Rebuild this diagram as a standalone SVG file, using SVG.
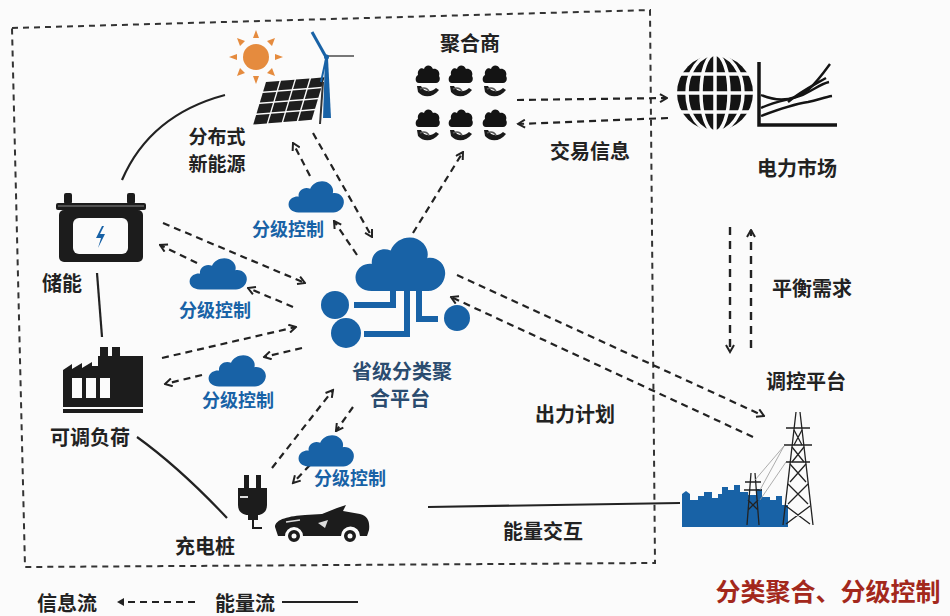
<svg xmlns="http://www.w3.org/2000/svg" xmlns:xlink="http://www.w3.org/1999/xlink" width="950" height="616" viewBox="0 0 950 616">
  <style>
    text { font-family: "Noto Sans CJK SC", "Noto Sans", sans-serif; font-weight: 700; text-anchor: middle; dominant-baseline: central; }
    .lbl { font-size: 20px; fill: #222; }
    .lbl2 { font-size: 19px; fill: #222; }
    .ctl { font-size: 18px; fill: #1862a6; }
    .plat { font-size: 20px; fill: #2b4c6f; }
    .red { font-size: 25px; fill: #a3281c; }
    .info { fill: none; stroke: #222; stroke-width: 2.2; stroke-dasharray: 7 5; }
    .info-v { fill: none; stroke: #222; stroke-width: 2.4; stroke-dasharray: 8 6; }
    .energy { fill: none; stroke: #222; stroke-width: 2.2; }
    .frame { fill: none; stroke: #333; stroke-width: 2; stroke-dasharray: 6 5; }
    .blue { fill: #1862a6; }
    .ink { fill: #1c1c1c; }
  </style>
  <defs>
    <marker id="arr" viewBox="0 0 10 10" refX="8.5" refY="5" markerWidth="10" markerHeight="10" markerUnits="userSpaceOnUse" orient="auto">
      <path d="M1.5,1 L8.5,5 L1.5,9" fill="none" stroke="#222" stroke-width="2"/>
    </marker>
    <symbol id="cloud" viewBox="0 0 100 62" preserveAspectRatio="none">
      <path d="M20,61 C8,61 1,53 3,44 C5,36 13,32 20,33 C19,22 29,15 40,19 C46,5 65,1 75,12 C80,18 80,23 79,27 C90,25 99,34 98,44 C97,54 89,61 80,61 Z"/>
    </symbol>
    <symbol id="agg" viewBox="0 0 25 34">
      <path d="M4,18 C0,18 -0.5,12 3,10 C2,5 6,2 9,4 C10,-0.5 16,-1 18,4 C22,3 25.5,7 24,11 C26,14 24,18 21,18 Z" fill="#141414"/>
      <path d="M2,21 L6,21 C9,27 15,28 21,23 L24,25 C18,33 8,33 3,27 Z" fill="#1a1a1a"/>
      <path d="M5,24 C9,22 12,23 14,26" fill="none" stroke="#555" stroke-width="1.5"/>
    </symbol>
  </defs>

  <rect width="950" height="616" fill="#fbfbfb"/>

  <!-- region boundary -->
  <polygon class="frame" points="12,28 650,10 655,563 25,567"/>

  <!-- connectors -->
  <g id="connectors">
    <!-- energy flows -->
    <path class="energy" d="M122,180 Q150,115 225,95" stroke="#555"/>
    <path class="energy" d="M97,273 L102,337"/>
    <path class="energy" d="M137,437 Q180,468 227,518"/>
    <path class="energy" d="M428,507 L680,503" stroke-width="2.6"/>

    <!-- platform <-> distributed generation -->
    <path class="info" d="M313,133 L372,237" marker-end="url(#arr)"/>
    <path class="info" d="M357,255 L334,221" marker-end="url(#arr)"/>
    <path class="info" d="M310,176 L293,143" marker-end="url(#arr)"/>
    <!-- platform -> aggregator -->
    <path class="info" d="M413,233 L463,152" marker-end="url(#arr)"/>
    <!-- aggregator <-> market -->
    <path class="info" d="M517,100 L667,98" marker-end="url(#arr)"/>
    <path class="info" d="M668,118 L518,124" marker-end="url(#arr)"/>
    <!-- storage <-> platform -->
    <path class="info" d="M163,223 L305,283" marker-end="url(#arr)"/>
    <path class="info" d="M293,307 L248,288" marker-end="url(#arr)"/>
    <path class="info" d="M197,263 L160,245" marker-end="url(#arr)"/>
    <!-- load <-> platform -->
    <path class="info" d="M162,358 L296,327" marker-end="url(#arr)"/>
    <path class="info" d="M302,348 L264,357" marker-end="url(#arr)"/>
    <path class="info" d="M202,375 L165,384" marker-end="url(#arr)"/>
    <!-- charging <-> platform -->
    <path class="info" d="M272,468 L333,390" marker-end="url(#arr)"/>
    <path class="info" d="M353,407 L336,431" marker-end="url(#arr)"/>
    <path class="info" d="M310,465 L293,483" marker-end="url(#arr)"/>
    <!-- platform <-> dispatch -->
    <path class="info" d="M457,275 L764,416" marker-end="url(#arr)"/>
    <path class="info" d="M753,437 L451,297" marker-end="url(#arr)"/>
    <!-- market <-> dispatch -->
    <path class="info-v" d="M730,227 L730,352" marker-end="url(#arr)"/>
    <path class="info-v" d="M751,348 L751,230" marker-end="url(#arr)"/>
  </g>

  <!-- distributed generation -->
  <g id="renewables">
    <g fill="#e58b3e">
      <circle cx="256" cy="57" r="13"/>
      <path d="M256,30 L253,38 L259,38 Z M256,84 L253,76 L259,76 Z M229,57 L237,54 L237,60 Z M283,57 L275,54 L275,60 Z M237,38 L240,46 L245,41 Z M275,38 L267,41 L272,46 Z M237,76 L245,73 L240,68 Z M275,76 L272,68 L267,73 Z"/>
    </g>
    <g transform="matrix(1,-0.08,-0.3,1,266,82)" fill="#1e1e1e">
      <rect x="0" y="0" width="13.5" height="9.5"/><rect x="15" y="0" width="13.5" height="9.5"/><rect x="30" y="0" width="13.5" height="9.5"/><rect x="45" y="0" width="13.5" height="9.5"/>
      <rect x="0" y="11" width="13.5" height="9.5"/><rect x="15" y="11" width="13.5" height="9.5"/><rect x="30" y="11" width="13.5" height="9.5"/><rect x="45" y="11" width="13.5" height="9.5"/>
      <rect x="0" y="22" width="13.5" height="9.5"/><rect x="15" y="22" width="13.5" height="9.5"/><rect x="30" y="22" width="13.5" height="9.5"/><rect x="45" y="22" width="13.5" height="9.5"/>
      <rect x="0" y="33" width="13.5" height="9.5"/><rect x="15" y="33" width="13.5" height="9.5"/><rect x="30" y="33" width="13.5" height="9.5"/><rect x="45" y="33" width="13.5" height="9.5"/>
    </g>
    <path d="M322,82 L324,82 L321,124 L319,124 Z" fill="#333"/>
    <path d="M325,58 L328,58 L331,118 L323,118 Z" class="blue"/>
    <path d="M326,57 L312,32" stroke="#1862a6" stroke-width="3" fill="none"/>
    <path d="M327,56 L354,56" stroke="#777" stroke-width="2" fill="none"/>
    <path d="M326,59 L321,82" stroke="#1862a6" stroke-width="2" fill="none"/>
    <circle cx="326.5" cy="57" r="2.5" class="blue"/>
    <text class="lbl2" x="217" y="135">分布式</text>
    <text class="lbl2" x="217" y="162">新能源</text>
  </g>

  <!-- aggregator -->
  <g id="aggregator">
    <use href="#agg" x="415" y="65" width="25" height="34"/>
    <use href="#agg" x="448" y="65" width="25" height="34"/>
    <use href="#agg" x="482" y="65" width="25" height="34"/>
    <use href="#agg" x="415" y="109" width="25" height="34"/>
    <use href="#agg" x="448" y="109" width="25" height="34"/>
    <use href="#agg" x="482" y="109" width="25" height="34"/>
    <text class="lbl" x="470" y="42">聚合商</text>
  </g>

  <!-- electricity market -->
  <g id="market">
    <circle cx="715" cy="93" r="38" fill="#141414"/>
    <g fill="none" stroke="#fbfbfb" stroke-width="3.5">
      <line x1="715" y1="54" x2="715" y2="132"/>
      <ellipse cx="715" cy="93" rx="14" ry="39"/>
      <ellipse cx="715" cy="93" rx="28" ry="39"/>
      <line x1="676" y1="93" x2="754" y2="93"/>
      <line x1="680" y1="74" x2="750" y2="74"/>
      <line x1="680" y1="112" x2="750" y2="112"/>
    </g>
    <path d="M759,62 L759,125 L837,125" fill="none" stroke="#141414" stroke-width="3.5"/>
    <g fill="none" stroke="#141414" stroke-width="2.4">
      <path d="M761,95 C780,103 795,100 808,90 C815,84 822,75 830,64"/>
      <path d="M761,108 C778,100 790,100 800,96 C812,91 820,84 829,82"/>
      <path d="M761,116 C782,108 795,104 808,102 C818,100 825,97 832,96"/>
      <path d="M788,102 C800,92 812,86 826,78"/>
    </g>
    <text class="lbl" x="797" y="167">电力市场</text>
    <text class="lbl" x="590" y="150">交易信息</text>
  </g>

  <!-- storage -->
  <g id="storage">
    <rect x="64" y="193" width="8" height="11" rx="2" class="ink"/>
    <rect x="127" y="193" width="8" height="11" rx="2" class="ink"/>
    <rect x="56" y="203" width="90" height="7" rx="2" class="ink"/>
    <line x1="58" y1="206" x2="144" y2="206" stroke="#888" stroke-width="1"/>
    <rect x="59" y="210" width="84" height="52" rx="5" class="ink"/>
    <rect x="73" y="218" width="55" height="36" rx="6" fill="#fbfbfb"/>
    <path d="M102,226 L96,238 L101,238 L98,248 L105,234 L100,234 L104,226 Z" class="blue"/>
    <text class="lbl" x="62" y="282">储能</text>
  </g>

  <!-- adjustable load -->
  <g id="load">
    <rect x="100" y="347" width="8" height="10" class="ink"/>
    <rect x="112" y="347" width="8" height="10" class="ink"/>
    <path d="M63,407 L63,370 L72,364 L72,369 L82,363 L82,368 L92,362 L92,366 L98,366 L98,356 L143,356 L143,407 Z" class="ink"/>
    <rect x="72" y="378" width="10" height="20" fill="#fbfbfb"/>
    <rect x="86" y="378" width="10" height="20" fill="#fbfbfb"/>
    <rect x="100" y="378" width="10" height="20" fill="#fbfbfb"/>
    <rect x="63" y="409" width="80" height="4" class="ink"/>
    <text class="lbl" x="90" y="436">可调负荷</text>
  </g>

  <!-- charging -->
  <g id="charging">
    <rect x="244" y="475" width="5" height="14" class="ink"/>
    <rect x="256" y="475" width="5" height="14" class="ink"/>
    <path d="M238,488 L267,488 L267,505 C267,512 262,515 258,515 L258,520 L248,520 L248,515 C243,515 238,512 238,505 Z" class="ink"/>
    <line x1="240" y1="497" x2="248" y2="497" stroke="#ddd" stroke-width="2"/>
    <path d="M253,520 L253,528 L262,528" fill="none" stroke="#1c1c1c" stroke-width="2"/>
    <path d="M275,527 C275,519 290,516 305,515 L322,514 L337,508 L346,505 L343,511 L360,514 C368,516 370,522 369,530 L367,536 L360,536 A9,9 0 0 0 341,536 L303,536 A9,9 0 0 0 285,536 L278,536 Z" class="ink"/>
    <path d="M318,523 L328,520 L325,528 Z" fill="#ddd"/>
    <path d="M286,522 L300,520" stroke="#ddd" stroke-width="1.5"/>
    <circle cx="294" cy="536" r="7" fill="#1c1c1c" stroke="#fbfbfb" stroke-width="2"/>
    <circle cx="294" cy="536" r="2.5" fill="#fbfbfb"/>
    <circle cx="350" cy="536" r="7" fill="#1c1c1c" stroke="#fbfbfb" stroke-width="2"/>
    <circle cx="350" cy="536" r="2.5" fill="#fbfbfb"/>
    <text class="lbl" x="205" y="545">充电桩</text>
  </g>

  <!-- provincial aggregation platform -->
  <g id="platform">
    <use href="#cloud" x="353" y="232" width="94" height="60" class="blue"/>
    <g fill="none" stroke="#1862a6" stroke-width="6">
      <path d="M393,290 L393,305 L354,305"/>
      <path d="M407,290 L407,334 L364,334"/>
      <path d="M419,290 L419,319 L438,319"/>
    </g>
    <circle cx="335" cy="305" r="14" class="blue"/>
    <circle cx="346" cy="333" r="15" class="blue"/>
    <circle cx="457" cy="318" r="13" class="blue"/>
    <text class="plat" x="402" y="370">省级分类聚</text>
    <text class="plat" x="400" y="397">合平台</text>
  </g>

  <!-- tiered control clouds -->
  <g id="ctl-generation">
    <use href="#cloud" x="287" y="178" width="58" height="35" class="blue"/>
    <text class="ctl" x="288" y="228">分级控制</text>
  </g>
  <g id="ctl-storage">
    <use href="#cloud" x="188" y="255" width="60" height="35" class="blue"/>
    <text class="ctl" x="215" y="309">分级控制</text>
  </g>
  <g id="ctl-load">
    <use href="#cloud" x="207" y="352" width="60" height="35" class="blue"/>
    <text class="ctl" x="238" y="399">分级控制</text>
  </g>
  <g id="ctl-charging">
    <use href="#cloud" x="297" y="432" width="58" height="35" class="blue"/>
    <text class="ctl" x="350" y="477">分级控制</text>
  </g>

  <!-- dispatch platform / grid -->
  <g id="dispatch">
    <path d="M682,527 L682,494 L686,491 L690,494 L690,500 L698,500 L698,496 L704,496 L704,492 L712,492 L712,498 L718,498 L718,494 L722,494 L722,487 L728,487 L728,490 L734,490 L734,485 L740,485 L740,492 L748,492 L748,495 L756,495 L756,489 L762,489 L762,497 L770,497 L770,500 L776,500 L776,496 L782,496 L782,505 L788,505 L788,527 Z" class="blue"/>
    <g fill="none" stroke="#222" stroke-width="1.3">
      <path d="M751,473 L747,525 M755,473 L759,525 M745,482 L761,482 M744,490 L762,490 M748,500 L758,510 M758,500 L748,510"/>
      <path d="M796,412 L783,525 M800,412 L813,525"/>
      <path d="M786,428 L810,428 M784,445 L812,445 M786,462 L810,462"/>
      <path d="M794,430 L802,445 M802,430 L794,445 M792,447 L804,462 M804,447 L792,462 M790,464 L806,482 M806,464 L790,482 M788,484 L808,504 M808,484 L788,504 M786,506 L810,524 M810,506 L786,524"/>
    </g>
    <g fill="none" stroke="#999" stroke-width="0.8">
      <path d="M784,446 L755,480 M784,446 L760,490 M786,462 L760,500"/>
    </g>
    <text class="lbl" x="806" y="380">调控平台</text>
    <text class="lbl" x="812" y="287">平衡需求</text>
  </g>

  <!-- flow labels -->
  <text class="lbl" x="575" y="413">出力计划</text>
  <text class="lbl" x="543" y="530">能量交互</text>

  <!-- legend -->
  <g id="legend">
    <text class="lbl" x="67" y="602">信息流</text>
    <path d="M117,602 L124,598 L124,606 Z" fill="#222"/>
    <path d="M128,602 L196,602" fill="none" stroke="#222" stroke-width="2" stroke-dasharray="7 5"/>
    <text class="lbl" x="245" y="602">能量流</text>
    <path d="M282,602 L358,602" fill="none" stroke="#222" stroke-width="2.2"/>
  </g>

  <text class="red" x="828" y="590">分类聚合、分级控制</text>
</svg>
